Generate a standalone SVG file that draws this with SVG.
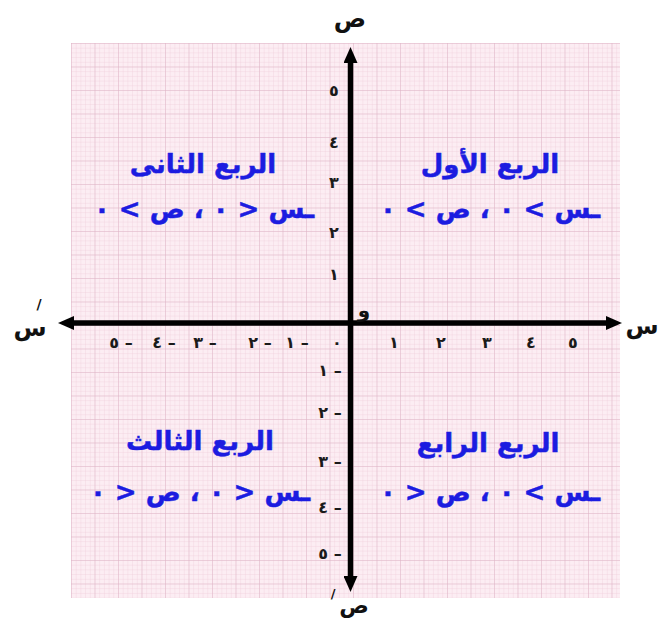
<svg xmlns="http://www.w3.org/2000/svg" width="661" height="624" viewBox="0 0 661 624">
<defs>
<style>
.ax{stroke:#000;stroke-width:5.5;fill:none}
.lbl{font-family:"DejaVu Sans",sans-serif;font-weight:bold;fill:#111}
.num{font-family:"DejaVu Sans",sans-serif;font-weight:bold;font-size:16px;fill:#1a1a1a;text-anchor:middle}
.q{font-family:"DejaVu Sans",sans-serif;font-weight:bold;fill:#1c1ce0;text-anchor:middle;stroke:#1c1ce0;stroke-width:0.5}
.t{font-size:26px}
.e{font-size:26px;direction:rtl}
</style>
<pattern id="minor" x="71" y="43" width="4.7" height="4.7" patternUnits="userSpaceOnUse">
<path d="M0 0H4.7M0 0V4.7" fill="none" stroke="#f0ccda" stroke-width="0.7"/>
</pattern>
<pattern id="major" x="71" y="43" width="23.5" height="23.5" patternUnits="userSpaceOnUse">
<path d="M0 0H23.5M0 0V23.5" fill="none" stroke="#dcb2c3" stroke-width="0.9"/>
</pattern>
<marker id="ah" viewBox="0 0 16 14" refX="3" refY="7" markerWidth="16" markerHeight="14" markerUnits="userSpaceOnUse" orient="auto-start-reverse">
<path d="M0 0L16 7L0 14z" fill="#000"/>
</marker>
</defs>
<rect width="661" height="624" fill="#fff"/>
<g id="paper">
<rect x="71" y="43" width="549" height="555" fill="#fcedf3"/>
<rect x="71" y="43" width="549" height="555" fill="url(#minor)"/>
<rect x="71" y="43" width="549" height="555" fill="url(#major)"/>
</g>
<g id="connectors">
<line class="ax" x1="71" y1="323" x2="609" y2="323" marker-start="url(#ah)" marker-end="url(#ah)"/>
<line class="ax" x1="350.5" y1="60" x2="350.5" y2="579" marker-start="url(#ah)" marker-end="url(#ah)"/>
</g>
<g id="axis-labels">
<text class="lbl" x="350" y="27" font-size="24" text-anchor="middle">ص</text>
<text class="lbl" x="354" y="613" font-size="22" text-anchor="middle">ص</text>
<text class="lbl" x="333" y="598" font-size="13" text-anchor="middle">/</text>
<text class="lbl" x="642" y="334" font-size="24" text-anchor="middle">س</text>
<text class="lbl" x="30" y="336" font-size="24" text-anchor="middle">س</text>
<text class="lbl" x="39" y="309" font-size="14" text-anchor="middle">/</text>
<text class="lbl" x="364" y="317" font-size="20" text-anchor="middle">و</text>
</g>
<g id="x-ticks">
<text class="num" x="394" y="348">١</text>
<text class="num" x="441" y="348">٢</text>
<text class="num" x="487" y="348">٣</text>
<text class="num" x="531" y="348">٤</text>
<text class="num" x="573" y="348">٥</text>
<text class="num" x="337" y="348">٠</text>
<text class="num" x="121" y="348">٥ –</text>
<text class="num" x="164" y="348">٤ –</text>
<text class="num" x="205" y="348">٣ –</text>
<text class="num" x="260" y="348">٢ –</text>
<text class="num" x="297" y="348">١ –</text>
</g>
<g id="y-ticks">
<text class="num" x="334" y="96">٥</text>
<text class="num" x="334" y="148">٤</text>
<text class="num" x="334" y="188">٣</text>
<text class="num" x="334" y="238">٢</text>
<text class="num" x="334" y="280">١</text>
<text class="num" x="330" y="376">١ –</text>
<text class="num" x="330" y="418">٢ –</text>
<text class="num" x="330" y="467">٣ –</text>
<text class="num" x="330" y="513">٤ –</text>
<text class="num" x="330" y="559">٥ –</text>
</g>
<g id="q1">
<text class="q t" x="490" y="173">الربع الأول</text>
<text class="q e" x="490" y="218">ـس &gt; ٠ ، ص &gt; ٠</text>
</g>
<g id="q2">
<text class="q t" x="203" y="173">الربع الثانى</text>
<text class="q e" x="204" y="218">ـس &lt; ٠ ، ص &gt; ٠</text>
</g>
<g id="q3">
<text class="q t" x="200" y="450">الربع الثالث</text>
<text class="q e" x="200" y="501">ـس &lt; ٠ ، ص &lt; ٠</text>
</g>
<g id="q4">
<text class="q t" x="488" y="452">الربع الرابع</text>
<text class="q e" x="490" y="501">ـس &gt; ٠ ، ص &lt; ٠</text>
</g>
</svg>
